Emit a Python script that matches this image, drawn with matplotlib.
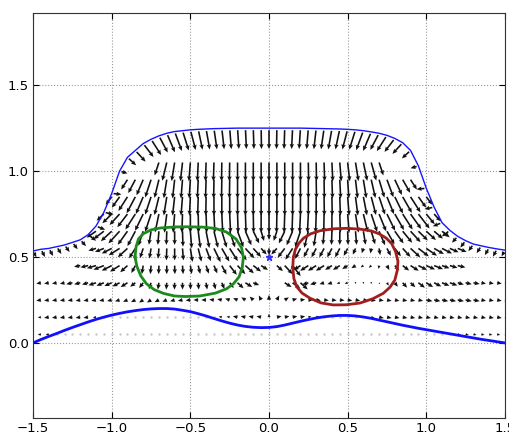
import numpy as np
import matplotlib
matplotlib.use("Agg")
import matplotlib.pyplot as plt

# ---------------- data ----------------
_ = None  # no arrow at this grid node

# grid columns: x = -1.50, -1.45, ..., 1.50 (61 nodes)
x_grid = np.round(np.linspace(-1.5, 1.5, 61), 2)

# upper boundary (thin blue) and lower boundary (thick blue), one value per column
upper_y = [0.535, 0.545, 0.55, 0.56, 0.57, 0.585, 0.60, 0.63, 0.68, 0.76, 0.87,
           1.00, 1.08, 1.12, 1.16, 1.185, 1.205, 1.22, 1.23, 1.235, 1.24,
           1.243, 1.245, 1.247, 1.248, 1.249, 1.25, 1.25, 1.25, 1.25, 1.25,
           1.25, 1.25, 1.25, 1.25, 1.249, 1.248, 1.247, 1.246, 1.245, 1.243,
           1.24, 1.235, 1.228, 1.22, 1.208, 1.19, 1.165, 1.12, 1.03, 0.90,
           0.79, 0.70, 0.655, 0.62, 0.595, 0.575, 0.565, 0.555, 0.547, 0.54]
lower_y = [0.00, 0.02, 0.038, 0.055, 0.073, 0.09, 0.106, 0.122, 0.137, 0.15, 0.162,
           0.172, 0.181, 0.188, 0.194, 0.198, 0.20, 0.20, 0.197, 0.19, 0.182,
           0.17, 0.157, 0.142, 0.128, 0.115, 0.104, 0.096, 0.091, 0.089, 0.09,
           0.095, 0.104, 0.115, 0.126, 0.136, 0.145, 0.152, 0.157, 0.16, 0.16,
           0.157, 0.151, 0.143, 0.133, 0.123, 0.113, 0.103, 0.094, 0.085, 0.077,
           0.069, 0.061, 0.053, 0.045, 0.037, 0.029, 0.021, 0.014, 0.007, 0.00]

# closed loops
green_x = [-0.852, -0.845, -0.83, -0.80, -0.75, -0.69, -0.60, -0.52, -0.42, -0.34,
           -0.27, -0.21, -0.175, -0.163, -0.17, -0.19, -0.225, -0.27, -0.34, -0.44,
           -0.53, -0.60, -0.67, -0.73, -0.78, -0.815, -0.84]
green_y = [0.50, 0.56, 0.605, 0.635, 0.658, 0.669, 0.675, 0.676, 0.674, 0.666,
           0.645, 0.605, 0.555, 0.50, 0.44, 0.385, 0.345, 0.315, 0.29, 0.273,
           0.27, 0.273, 0.288, 0.31, 0.345, 0.39, 0.445]
red_x = [0.151, 0.155, 0.168, 0.19, 0.22, 0.265, 0.325, 0.41, 0.494, 0.58,
         0.65, 0.70, 0.745, 0.78, 0.805, 0.82, 0.815, 0.80, 0.77, 0.727,
         0.66, 0.578, 0.49, 0.409, 0.33, 0.261, 0.21, 0.176, 0.158]
red_y = [0.44, 0.50, 0.545, 0.58, 0.61, 0.635, 0.653, 0.664, 0.667, 0.662,
         0.652, 0.635, 0.61, 0.578, 0.53, 0.475, 0.42, 0.366, 0.325, 0.289,
         0.257, 0.232, 0.222, 0.221, 0.233, 0.26, 0.29, 0.327, 0.375]
sink_x, sink_y = [0.0], [0.5]

# arrows hanging from the upper boundary: direction (deg) and length (1/100 units)
bnd_ang = [-60, -60, -58, -55, -52, -50, -45, -35, -20, -10, -5, -15,
           -40, -45, -50, -55, -60, -65, -68, -71, -74, -77, -79, -81, -83, -85,
           -86, -87, -88, -89, -90,
           -91, -92, -93, -94, -95, -97, -99, -101, -103, -106, -109, -112, -115,
           -120, -125, -130, -135, -140,
           -165, -175, -170, -160, -145, -135, -130, -128, -125, -122, -120, -120]
bnd_len = [3, 4, 4, 4, 4, 4, 4, 5, 5, 5, 5, 4, 6, 8, 9, 10, 10] + [11] * 27 + \
          [10, 10, 9, 8, 6, 4, 5, 5, 5, 5, 4, 4, 4, 4, 4, 4, 3]

# interior rows: direction (deg) and length (1/100 units) per column
ang_105 = [_] * 16 + [-110, -105, -100, -97, -95, -93, -92, -92, -91, -91, -90, -90,
                      -90, -90, -90, -90, -90, -90, -90, -89, -89, -88, -87, -85,
                      -83, -80, -77, -73, -70] + [_] * 16
len_105 = [0] * 16 + [8] + [11] * 27 + [8] + [0] * 16

ang_095 = [_] * 12 + [-125, -120, -115, -110, -105, -100, -97, -95, -94, -93, -92,
                      -91, -91, -91, -90, -90, -90, -90, -90, -90, -90, -90, -90,
                      -90, -89, -89, -88, -87, -86, -83, -80, -76, -72, -68, -63,
                      -58, -55] + [_] * 12
len_095 = [0] * 12 + [7, 9, 10] + [11] * 31 + [10, 9, 7] + [0] * 12

ang_085 = [_] * 10 + [-130, -128, -125, -120, -115, -110, -105, -100, -97, -95, -93,
                      -92, -91, -90, -90, -90, -90, -90, -90, -90, -90, -90, -90,
                      -90, -90, -90, -90, -89, -89, -88, -85, -82, -78, -74, -70,
                      -66, -62, -58, -55, -52, -50] + [_] * 10
len_085 = [0] * 10 + [6, 8, 10] + [11] * 36 + [8, 6] + [0] * 10

ang_075 = [_] * 9 + [-140, -138, -135, -130, -125, -118, -110, -103, -98, -95, -92,
                     -90, -89, -88, -87, -87, -87, -88, -88, -89, -90, -90, -91,
                     -92, -92, -93, -93, -92, -91, -90, -88, -85, -80, -75, -70,
                     -66, -62, -58, -55, -52, -50, -48, -45] + [_] * 9
len_075 = [0] * 9 + [6, 8, 9, 10] + [11] * 37 + [8, 6] + [0] * 9

ang_065 = [_] * 8 + [-148, -145, -140, -135, -128, -120, -110, -100, -95, -92, -90,
                     -88, -85, -82, -78, -75, -72, -70, -68, -65, -62, -72, -90,
                     -110, -118, -115, -110, -105, -100, -95, -92, -90, -88, -85,
                     -80, -72, -65, -58, -52, -48, -45, -42, -40, -38, -36] + [_] * 8
len_065 = [0] * 8 + [7, 8, 9, 10, 10, 10, 9, 8, 8, 8, 8, 9, 10, 10, 10, 10, 10, 10,
                     10, 9, 8, 6, 5,
                     6, 8, 9, 10, 10, 9, 8, 8, 8, 8, 8, 8, 8, 9, 9, 9, 9, 9, 8, 8,
                     7, 6] + [0] * 8

ang_055 = [_] * 8 + [-165, -160, -155, -150, -140, -125, -110, -100, -95, -92, -90,
                     -85, -80, -75, -68, -62, -58, -55, -50, -45, -45, -45, -90,
                     -135, -130, -125, -120, -120, -120, -120, -120, -120, -120,
                     -115, -110, -100, -80, -60, -50, -45, -40, -35, -32, -28, -25,
                     -22, -20] + [_] * 6
len_055 = [0] * 8 + [5, 6, 7, 8, 8, 7, 6, 6, 6, 7, 7, 7, 8, 8, 8, 9, 9, 9, 9, 8, 7,
                     5, 4,
                     5, 7, 8, 7, 6, 6, 6, 6, 6, 5, 4, 3, 3, 4, 5, 6, 7, 8, 8, 8, 7,
                     7, 6, 6] + [0] * 6

ang_045 = [_] * 6 + [-170, -168, -165, -160, -155, -150, -140, -120, -100, -95, -92,
                     -90, -88, -85, -80, -75, -70, -65, -60, -50, -45, -40, -35,
                     -30] + [_] + \
          [-40, -45, -50, -150, -150, -150, -150, -150, -150, -150, -150, -150,
           -140, -100, -60, -45, -35, -30, -25, -22, -20, -18, -15, -12] + [_] * 6
len_045 = [0] * 6 + [4, 5, 6, 7, 7, 7, 6, 5, 5, 5, 5, 5, 5, 5, 5, 5, 5, 5, 6, 7, 7,
                     7, 6, 5] + [0] + \
          [5, 7, 8, 5, 6, 6, 6, 5, 5, 4, 3, 2, 2, 2, 3, 4, 5, 6, 6, 6, 6, 5, 5,
           5] + [0] * 6

ang_035 = [-170, -170, -170, -170, -168, -168, -167, -165, -163, -160, -158, -155,
           -150, -145, -130, -110, -100, -95, -92, -90, -88, -85, -80, -75, -65,
           -50, -40, -30, -20] + [_] * 3 + \
          [-30, -35, -40, -165, -165, -165, -165, -165, -165, -165, -165, -160,
           -60, -55, -50, -45, -40, -35, -30, -25, -20, -18, -15, -12, -10, -10,
           -10, -10, -10]
len_035 = [2, 3, 3, 3, 3, 4, 4, 4, 5, 5, 5, 5, 5, 4, 4, 4, 4, 4, 4, 4, 4, 4, 4, 4,
           4, 4, 5, 5, 4] + [0] * 3 + \
          [5, 6, 6, 4, 4, 3, 3, 2, 2, 1, 1, 1, 1, 2, 3, 4, 4, 5, 5, 5, 5, 5, 4, 4,
           4, 3, 3, 3, 2]

ang_025 = [-172, -172, -172, -172, -172, -172, -170, -170, -170, -170, -168, -165,
           -160, -155, -150, -150, -155, -160, -165, -170, -175, 180, 180, 175,
           170, 165, 160, 150, 140, 120, 90,
           60, 30, 15, 5, 0, -5, -5, -5, -5, -8, -8, -8, -8, -8] + [-10] * 16
len_025 = [2] + [3] * 29 + [3] + [3] * 19 + [4] * 7 + [3] * 4

ang_015 = [-172] * 9 + [0] * 15 + [170] * 6 + [90] + [10] * 6 + [0] * 6 + [-10] * 18
len_015 = [2, 2, 3, 3, 3, 3, 3, 3, 2] + [0] * 15 + [2, 2, 3, 3, 3, 3] + [2] + \
          [3, 3, 3, 3, 2, 2] + [0] * 6 + [2] + [3] * 16 + [2]

ang_005 = [-172] * 3 + [0] * 51 + [-10] * 7
len_005 = [2] * 3 + [0] * 51 + [2] * 7

rows = [(1.05, ang_105, len_105), (0.95, ang_095, len_095), (0.85, ang_085, len_085),
        (0.75, ang_075, len_075), (0.65, ang_065, len_065), (0.55, ang_055, len_055),
        (0.45, ang_045, len_045), (0.35, ang_035, len_035), (0.25, ang_025, len_025),
        (0.15, ang_015, len_015), (0.05, ang_005, len_005)]

# ---------------- build the arrow arrays ----------------
X, Y, U, V = [], [], [], []
DX, DY = [], []          # zero-length nodes, drawn as faint dots
for y0, angs, lens in rows:
    for xi, a, ln in zip(x_grid, angs, lens):
        if a is None:
            continue
        if ln == 0:
            DX.append(xi)
            DY.append(y0)
            continue
        r = np.deg2rad(a)
        X.append(xi)
        Y.append(y0)
        U.append(ln / 100 * np.cos(r))
        V.append(ln / 100 * np.sin(r))

for xi, yi, a, ln in zip(x_grid, upper_y, bnd_ang, bnd_len):
    r = np.deg2rad(a)
    X.append(xi + 0.012 * np.cos(r))
    Y.append(yi + 0.012 * np.sin(r))
    U.append(ln / 100 * np.cos(r))
    V.append(ln / 100 * np.sin(r))

# ---------------- plot ----------------
fig = plt.figure(figsize=(5.09, 4.33), dpi=100)
ax = fig.add_axes([0.065, 0.035, 0.927, 0.935])

ax.quiver(X, Y, U, V, angles='xy', scale_units='xy', scale=1, color='#111111',
          width=0.0034, headwidth=2.8, headlength=3.2, headaxislength=2.8, zorder=2)
ax.plot(DX, DY, '.', color='#c8c8c8', ms=1.5, zorder=2)

ax.plot(x_grid, upper_y, color='#1515ff', lw=1.0, zorder=3)
ax.plot(x_grid, lower_y, color='#1010ff', lw=2.0, zorder=3)
ax.plot(green_x + green_x[:1], green_y + green_y[:1], color='#1c8a1c', lw=2.0, zorder=3)
ax.plot(red_x + red_x[:1], red_y + red_y[:1], color='#a01e1e', lw=2.0, zorder=3)
ax.plot(sink_x, sink_y, '*', color='#3030ff', ms=5, zorder=4)

ax.set_xlim(-1.5, 1.5)
ax.set_ylim(-0.436, 1.92)
ax.set_xticks([-1.5, -1.0, -0.5, 0.0, 0.5, 1.0, 1.5])
ax.set_yticks([0.0, 0.5, 1.0, 1.5])
ax.grid(True, linestyle=':', color='#999999', lw=0.8)
ax.set_axisbelow(True)
ax.tick_params(direction='in', top=True, right=True, length=4, labelsize=9.5, pad=3)
for s in ax.spines.values():
    s.set_color('#333333')

fig.savefig("out.png", dpi=100)
